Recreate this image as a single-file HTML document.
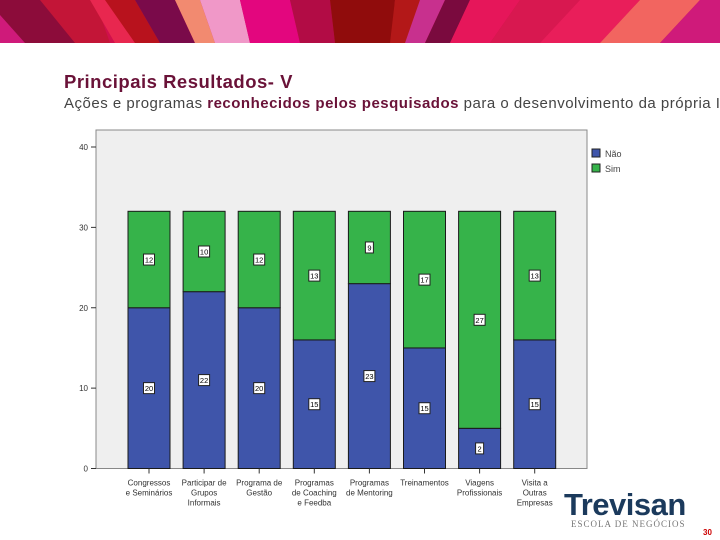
<!DOCTYPE html>
<html><head><meta charset="utf-8"><style>
html,body{margin:0;padding:0;width:720px;height:540px;overflow:hidden;background:#fff;font-family:"Liberation Sans",sans-serif}
#title{position:absolute;left:64px;top:71px;font-size:18.5px;font-weight:bold;color:#6a1238;letter-spacing:0.5px}
#sub{position:absolute;left:64px;top:95px;font-size:15px;color:#444;white-space:nowrap;letter-spacing:0.5px}
#sub b{color:#6a1238}
#logo{position:absolute;left:564px;top:487px;font-size:31px;font-weight:bold;color:#1b3a5c;letter-spacing:-0.5px}
#logosub{position:absolute;left:571px;top:519px;font-family:"Liberation Serif",serif;font-size:9px;color:#777;letter-spacing:1px}
#pg{position:absolute;left:703px;top:528px;font-size:8px;color:#c00;font-weight:bold}
</style></head><body>
<svg width="720" height="43" style="position:absolute;left:0;top:0">
<rect width="720" height="43" fill="#d0104c"/>
<polygon points="0,0 45,0 80,43 0,43" fill="#8c0c3a"/>
<polygon points="0,15 25,43 0,43" fill="#cf1a7a"/>
<polygon points="40,0 95,0 110,43 75,43" fill="#c31537"/>
<polygon points="90,0 110,0 135,43 115,43" fill="#e8274f"/>
<polygon points="105,0 135,0 160,43 135,43" fill="#b8121d"/>
<polygon points="135,0 175,0 195,43 160,43" fill="#7a0a4a"/>
<polygon points="175,0 200,0 215,43 195,43" fill="#f28a70"/>
<polygon points="200,0 240,0 250,43 215,43" fill="#f098c8"/>
<polygon points="240,0 290,0 300,43 250,43" fill="#e3067e"/>
<polygon points="290,0 330,0 335,43 300,43" fill="#b20c45"/>
<polygon points="330,0 395,0 392,43 335,43" fill="#900c0c"/>
<polygon points="395,0 420,0 410,43 390,43" fill="#b31818"/>
<polygon points="420,0 445,0 425,43 405,43" fill="#c8308e"/>
<polygon points="445,0 470,0 450,43 425,43" fill="#7a0a3e"/>
<polygon points="470,0 520,0 490,43 450,43" fill="#e6165a"/>
<polygon points="520,0 580,0 540,43 490,43" fill="#d81850"/>
<polygon points="580,0 640,0 600,43 540,43" fill="#e91e5a"/>
<polygon points="640,0 700,0 660,43 600,43" fill="#f26560"/>
<polygon points="700,0 720,0 720,43 660,43" fill="#cf1a7a"/>
</svg>
<div id="title">Principais Resultados- V</div>
<div id="sub">Ações e programas <b>reconhecidos pelos pesquisados</b> para o desenvolvimento da própria I</div>
<svg id="chart" width="720" height="540" style="position:absolute;left:0;top:0"></svg>
<div id="logo">Trevisan</div>
<div id="logosub">ESCOLA DE NEGÓCIOS</div>
<div id="pg">30</div>
<script>
const categories=[["Congressos","e Seminários"],["Participar de","Grupos","Informais"],["Programa de","Gestão"],["Programas","de Coaching","e Feedba"],["Programas","de Mentoring"],["Treinamentos"],["Viagens","Profissionais"],["Visita a","Outras","Empresas"]];
const naoValues=[20,22,20,16,23,15,5,16];
const simValues=[12,10,12,16,9,17,27,16];
const naoLabels=["20","22","20","15","23","15","2","15"];
const simLabels=["12","10","12","13","9","17","27","13"];
const yTicks=[0,10,20,30,40];
const NS="http://www.w3.org/2000/svg";
const svg=document.getElementById('chart');
const L=96,T=130,R=587,B=468.5,yMax=40,yTopPx=147;
function y(v){return B-(B-yTopPx)*v/yMax;}
function xc(i){return 149+i*55.1;}
const bw=42;
function mk(t,a,p){const e=document.createElementNS(NS,t);for(const k in a)e.setAttribute(k,a[k]);(p||svg).appendChild(e);return e;}
let bg=mk('rect',{x:L,y:T,width:R-L,height:B-T,fill:'#efefef',stroke:'#888','stroke-width':1});


yTicks.forEach(v=>{
  let l=mk('line',{x1:L-5,x2:L,y1:y(v),y2:y(v),stroke:'#333'});
  
  
  let t=mk('text',{x:L-8,y:y(v)+3,'font-size':8,'text-anchor':'end',fill:'#333'});
  t.textContent=v;
  
  
});
function label(cx,cy,txt){
  const w=txt.length>1?11:8;
  let r=mk('rect',{x:cx-w/2,y:cy-5.5,width:w,height:11,fill:'#fff',stroke:'#222','stroke-width':1});
  
  
  let t=mk('text',{x:cx,y:cy+3,'font-size':7.5,'text-anchor':'middle',fill:'#000'});
  t.textContent=txt;
  
  
}
categories.forEach((c,i)=>{
  const x=xc(i)-bw/2;
  let b1=mk('rect',{x:x,y:y(naoValues[i]),width:bw,height:B-y(naoValues[i]),fill:'#3f55aa',stroke:'#1a1a1a','stroke-width':1});
  
  
  const top=naoValues[i]+simValues[i];
  let b2=mk('rect',{x:x,y:y(top),width:bw,height:y(naoValues[i])-y(top),fill:'#36b34a',stroke:'#1a1a1a','stroke-width':1});
  
  
  label(xc(i),y(naoValues[i]/2),naoLabels[i]);
  label(xc(i),y(naoValues[i]+simValues[i]/2),simLabels[i]);
  let tk=mk('line',{x1:xc(i),x2:xc(i),y1:B,y2:B+5,stroke:'#333'});
  
  
  c.forEach((ln,j)=>{
    let t=mk('text',{x:xc(i),y:B+17+j*10,'font-size':8,'text-anchor':'middle',fill:'#333'});
    t.textContent=ln;
    
    
  });
});
[["Não","#3f55aa"],["Sim","#36b34a"]].forEach((e,i)=>{
  let r=mk('rect',{x:592,y:149+i*15,width:8,height:8,fill:e[1],stroke:'#222'});
  
  
  let t=mk('text',{x:605,y:157+i*15,'font-size':9,fill:'#444'});
  t.textContent=e[0];
  
  
});
</script>
</body></html>
